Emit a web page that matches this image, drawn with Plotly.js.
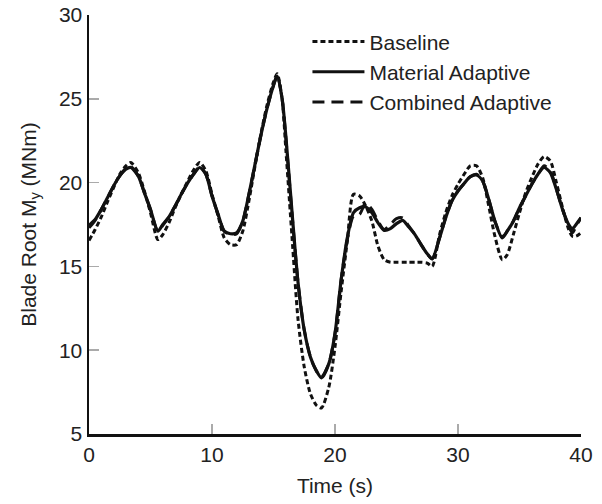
<!DOCTYPE html>
<html>
<head>
<meta charset="utf-8">
<script src="https://cdn.plot.ly/plotly-3.0.1.min.js"></script>
<style>html,body{margin:0;padding:0;background:#fff;}#chart{width:602px;height:504px;}</style>
</head>
<body>
<div id="chart"></div>
<script>
var time = [0,0.5,1,1.5,2,2.5,3,3.4,4,4.5,5,5.6,6,6.5,7,7.5,8,8.5,9,9.5,10,10.5,11,11.5,12,12.5,13,13.5,14,14.5,15,15.3,15.7,16,16.5,17,17.5,18,18.5,18.9,19.5,20,20.5,21,21.5,22,22.5,23,23.5,24,24.5,25,25.5,26,26.5,27,27.5,27.9,28.5,29,29.5,30,30.5,31,31.5,32,32.5,33,33.6,34,34.5,35,35.5,36,36.5,37,37.5,38,38.5,39,39.3,39.6,40];

var baseline = [16.55,17.2,17.95,18.85,19.7,20.5,21.0,21.2,20.6,19.5,18.2,16.6,16.9,17.6,18.5,19.3,20.05,20.75,21.2,20.7,19.3,18.0,16.7,16.3,16.3,17.1,18.9,21.0,23.0,24.7,26.0,26.5,25.0,22.0,16.8,11.8,9.0,7.4,6.7,6.55,7.8,10.2,13.5,16.5,19.3,19.2,18.6,17.7,16.2,15.4,15.25,15.25,15.25,15.25,15.25,15.25,15.2,15.0,16.9,18.2,19.2,19.9,20.5,21.0,21.0,20.3,18.6,16.8,15.4,15.7,16.9,18.2,19.4,20.3,21.1,21.55,21.3,20.0,18.5,17.2,16.8,16.8,17.0];

var material = [17.45,17.8,18.4,19.1,19.8,20.4,20.8,20.9,20.4,19.4,18.4,17.1,17.5,17.95,18.6,19.3,19.95,20.5,20.9,20.5,19.2,18.1,17.1,16.95,17.0,17.7,19.3,21.1,22.9,24.5,25.8,26.35,25.0,22.8,18.3,14.0,11.2,9.6,8.75,8.35,9.2,11.0,14.2,16.7,18.2,18.5,18.55,18.2,17.6,17.15,17.25,17.55,17.75,17.35,16.9,16.3,15.75,15.45,16.7,17.9,18.9,19.5,19.95,20.35,20.45,20.1,19.0,17.7,16.7,17.1,17.7,18.5,19.2,19.9,20.5,20.9,20.6,19.6,18.4,17.5,17.25,17.5,17.9];

var combined = [17.3,17.75,18.4,19.1,19.8,20.4,20.85,20.95,20.4,19.4,18.4,17.1,17.45,17.95,18.6,19.3,19.95,20.5,20.95,20.5,19.2,18.1,17.1,16.9,16.95,17.7,19.3,21.1,22.9,24.5,25.8,26.4,25.0,22.7,18.2,14.0,11.2,9.6,8.75,8.4,9.2,11.0,14.2,16.6,18.0,18.1,18.8,18.4,17.7,17.2,17.5,17.85,17.9,17.4,16.9,16.3,15.75,15.45,16.7,17.9,18.9,19.5,19.95,20.35,20.5,20.1,19.0,17.7,16.75,17.1,17.7,18.5,19.2,19.9,20.5,21.0,20.7,19.6,18.4,17.4,17.0,17.4,17.9];

var seriesNames = ["Baseline", "Material Adaptive", "Combined Adaptive"];

var lineCol = "#111111";
var fontFam = "Liberation Sans, Arial, Helvetica, sans-serif";

var traces = [
  {x: time, y: baseline, name: seriesNames[0], mode: "lines",
   line: {color: lineCol, width: 3, dash: "5px,3px", shape: "spline", smoothing: 0.7}},
  {x: time, y: material, name: seriesNames[1], mode: "lines",
   line: {color: lineCol, width: 3.2, dash: "solid", shape: "spline", smoothing: 0.7}},
  {x: time, y: combined, name: seriesNames[2], mode: "lines",
   line: {color: lineCol, width: 3, dash: "12px,7px", shape: "spline", smoothing: 0.7}}
];

var layout = {
  width: 602, height: 504,
  margin: {l: 89, r: 21, t: 15, b: 70},
  paper_bgcolor: "#fff", plot_bgcolor: "#fff",
  font: {family: fontFam, size: 21, color: "#222"},
  showlegend: true,
  legend: {x: 0.444, y: 0.985, xanchor: "left", yanchor: "top",
           bgcolor: "rgba(0,0,0,0)", borderwidth: 0, itemwidth: 52,
           font: {family: fontFam, size: 21, color: "#222"}},
  xaxis: {range: [0, 40], tickvals: [0, 10, 20, 30, 40], ticktext: ["0","10","20","30","40"],
          showline: true, linecolor: lineCol, linewidth: 2.5, mirror: false,
          ticks: "inside", ticklen: 10, tickwidth: 1.5, tickcolor: "#aaaaaa",
          showgrid: false, zeroline: false,
          title: {text: "Time (s)", standoff: 14, font: {family: fontFam, size: 21, color: "#222"}},
          tickfont: {family: fontFam, size: 21, color: "#222"}},
  yaxis: {range: [5, 30], tickvals: [5, 10, 15, 20, 25, 30], ticktext: ["5","10","15","20","25","30"],
          showline: true, linecolor: lineCol, linewidth: 2.5, mirror: false,
          ticks: "inside", ticklen: 10, tickwidth: 1.5, tickcolor: "#aaaaaa",
          showgrid: false, zeroline: false,
          title: {text: "Blade Root M<sub>y</sub> (MNm)", standoff: 17, font: {family: fontFam, size: 21, color: "#222"}},
          tickfont: {family: fontFam, size: 21, color: "#222"}}
};

Plotly.newPlot("chart", traces, layout, {displayModeBar: false, staticPlot: true});
</script>
</body>
</html>
